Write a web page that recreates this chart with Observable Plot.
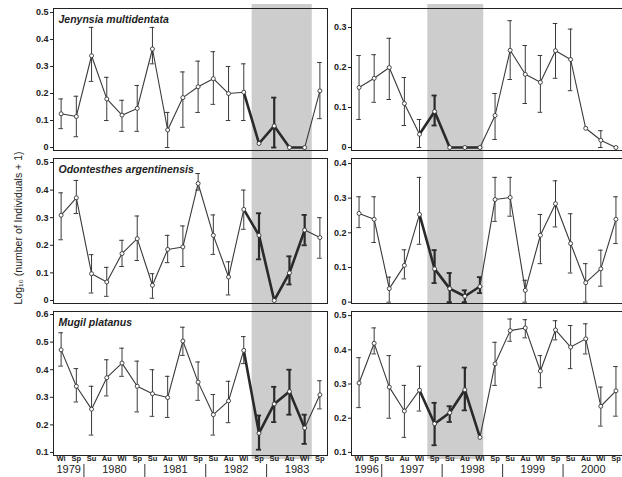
<!DOCTYPE html>
<html><head><meta charset="utf-8">
<script src="https://cdn.jsdelivr.net/npm/d3@7"></script>
<script src="https://cdn.jsdelivr.net/npm/@observablehq/plot@0.6"></script>
<style>
html,body{margin:0;padding:0;background:#fff;overflow:hidden;}
#chart{position:relative;width:622px;height:477px;overflow:hidden;font-family:"Liberation Sans",Arial,sans-serif;}
.panel{position:absolute;}
#ylab{position:absolute;left:18px;top:228px;transform:translate(-50%,-50%) rotate(-90deg);white-space:nowrap;font-size:10.5px;color:#222;}
</style></head><body>
<div id="chart"><div id="ylab">Log₁₀ (number of Individuals + 1)</div></div>
<script>
const seasons = ["Wi","Sp","Su","Au","Wi","Sp","Su","Au","Wi","Sp","Su","Au","Wi","Sp","Su","Au","Wi","Sp"];
const yearsLeft = ["1979","1980","1981","1982","1983"];
const yearsRight = ["1996","1997","1998","1999","2000"];
const yearCenters = [0.5, 3.5, 7.5, 11.5, 15.5];
const yearSeps = [1.5, 5.5, 9.5, 13.5];
const shadeLeft = [12.55, 16.5];
const shadeRight = [4.55, 8.25];

// Jenynsia multidentata
const jenL = [0.125,0.115,0.34,0.18,0.12,0.145,0.365,0.065,0.185,0.225,0.255,0.2,0.205,0.015,0.08,0,0,0.21];
const jenLlo = [0.07,0.04,0.245,0.10,0.06,0.06,0.31,0,0.075,0.13,0.16,0.10,0.10,null,0,null,null,0.107];
const jenLhi = [0.18,0.19,0.445,0.26,0.175,0.23,0.445,0.13,0.28,0.32,0.355,0.30,0.31,null,0.185,null,null,0.315];
const jenR = [0.15,0.173,0.2,0.11,0.033,0.09,0,0,0,0.08,0.243,0.183,0.163,0.242,0.22,0.048,0.018,0];
const jenRlo = [0.07,0.113,0.12,0.055,0,0.055,null,null,null,0.02,0.17,0.11,0.088,0.173,0.142,null,0,null];
const jenRhi = [0.23,0.232,0.273,0.175,0.07,0.13,null,null,null,0.135,0.317,0.255,0.23,0.31,0.296,null,0.042,null];
// Odontesthes argentinensis
const odoL = [0.309,0.372,0.097,0.067,0.17,0.224,0.055,0.185,0.194,0.424,0.236,0.085,0.33,0.236,0,0.1,0.255,0.228];
const odoLlo = [0.22,0.315,0.027,0.015,0.123,0.145,0.008,0.137,0.123,0.4,0.167,0.02,0.258,0.149,null,0.058,0.2,0.153];
const odoLhi = [0.39,0.435,0.166,0.12,0.218,0.306,0.097,0.236,0.27,0.46,0.31,0.14,0.4,0.316,null,0.16,0.31,0.30];
const odoR = [0.256,0.239,0.039,0.106,0.253,0.096,0.039,0.017,0.045,0.296,0.302,0.034,0.193,0.284,0.169,0.056,0.096,0.239];
const odoRlo = [0.215,0.172,0,0.067,0.167,0.055,0,0,0.026,0.233,0.248,0,0.111,0.217,0.084,0,0.046,0.169];
const odoRhi = [0.304,0.304,0.072,0.151,0.36,0.15,0.084,0.034,0.072,0.36,0.36,0.063,0.253,0.35,0.255,0.111,0.15,0.304];
// Mugil platanus
const mugL = [0.472,0.34,0.257,0.371,0.424,0.34,0.313,0.299,0.504,0.355,0.237,0.287,0.47,0.17,0.276,0.321,0.189,0.309];
const mugLlo = [0.413,0.283,0.163,0.305,0.376,0.247,0.231,0.227,0.452,0.289,0.163,0.208,0.422,0.11,0.21,0.237,0.131,0.258];
const mugLhi = [0.534,0.404,0.34,0.436,0.478,0.431,0.4,0.376,0.554,0.428,0.31,0.358,0.52,0.234,0.338,0.4,0.237,0.36];
const mugR = [0.303,0.419,0.291,0.221,0.282,0.184,0.216,0.283,0.144,0.359,0.456,0.464,0.338,0.458,0.408,0.432,0.235,0.28];
const mugRlo = [0.231,0.388,0.2,0.144,0.221,0.121,0.189,0.223,null,0.296,0.425,0.435,0.289,0.429,0.345,0.388,0.177,0.206];
const mugRhi = [0.377,0.464,0.383,0.296,0.352,0.245,0.235,0.348,null,0.422,0.49,0.488,0.383,0.485,0.471,0.476,0.291,0.351];

const fmt = d => d === 0 ? "0" : d.toFixed(1);
const ink = "#3a3a3a";

function panel(o) {
  const data = o.mean.map((v, i) => ({i, v, lo: o.lo[i], hi: o.hi[i]}));
  const bars = data.filter(d => d.lo != null && d.hi != null);
  const hb = d => d.i >= o.heavyBars[0] && d.i <= o.heavyBars[1];
  const thin = bars.filter(d => !hb(d));
  const thick = bars.filter(hb);
  const heavyLine = data.filter(d => d.i >= o.heavy[0] && d.i <= o.heavy[1]);
  const frameH = o.height - o.mT - o.mB;
  const marks = [
    Plot.rect([o.shade], {x1: d => d[0], x2: d => d[1], fill: "#c4c4c4", fillOpacity: 0.85, insetTop: -4, insetBottom: -4}),
    Plot.frame({stroke: "#222", strokeWidth: 1}),
    Plot.ruleX(thin, {x: "i", y1: "lo", y2: "hi", stroke: ink, strokeWidth: 1}),
    Plot.ruleY(thin, {x1: d => d.i - 0.15, x2: d => d.i + 0.15, y: "hi", stroke: ink, strokeWidth: 1}),
    Plot.ruleY(thin, {x1: d => d.i - 0.15, x2: d => d.i + 0.15, y: "lo", stroke: ink, strokeWidth: 1}),
    Plot.ruleX(thick, {x: "i", y1: "lo", y2: "hi", stroke: "#2a2a2a", strokeWidth: 2.2}),
    Plot.ruleY(thick, {x1: d => d.i - 0.17, x2: d => d.i + 0.17, y: "hi", stroke: "#2a2a2a", strokeWidth: 1.8}),
    Plot.ruleY(thick, {x1: d => d.i - 0.17, x2: d => d.i + 0.17, y: "lo", stroke: "#2a2a2a", strokeWidth: 1.8}),
    Plot.line(data, {x: "i", y: "v", stroke: ink, strokeWidth: 1.1}),
    Plot.line(heavyLine, {x: "i", y: "v", stroke: "#2a2a2a", strokeWidth: 2.6}),
    Plot.dot(data, {x: "i", y: "v", r: 2, fill: "white", stroke: "#333", strokeWidth: 0.9}),
    Plot.axisY({ticks: o.yTicks, tickFormat: fmt, tickSize: 3, tickPadding: 2, fontSize: 9, fontWeight: "bold", label: null, stroke: "#222", fill: "#222"})
  ];
  if (o.title) marks.push(Plot.text([o.title], {text: d => d, frameAnchor: "top-left", dx: 5, dy: 7, fontSize: 10.5, fontStyle: "italic", fontWeight: "bold", fill: "#222", textAnchor: "start"}));
  if (o.years) {
    marks.push(Plot.axisX({ticks: d3.range(seasons.length), tickFormat: i => seasons[i], tickSize: 0, tickPadding: 0, fontSize: 7.5, fontWeight: "bold", label: null, fill: "#222"}));
    marks.push(Plot.text(o.years, {x: (d, i) => yearCenters[i], text: d => d, frameAnchor: "bottom", dy: 17.5, fontSize: 11, fill: "#222"}));
    marks.push(Plot.ruleX(yearSeps, {x: d => d, insetTop: frameH + 9, insetBottom: -22, stroke: "#333", strokeWidth: 1}));
  }
  const svg = Plot.plot({
    width: o.width, height: o.height,
    marginLeft: o.mL, marginRight: o.mR, marginTop: o.mT, marginBottom: o.mB,
    style: {background: "transparent", fontFamily: "Liberation Sans, Arial, sans-serif", overflow: "visible"},
    x: {domain: [-0.5, 17.5], axis: null},
    y: {domain: o.yDomain, axis: null},
    marks
  });
  svg.classList.add("panel");
  svg.style.left = o.left + "px";
  svg.style.top = o.top + "px";
  svg.style.position = "absolute";
  svg.style.maxWidth = "none";
  document.getElementById("chart").appendChild(svg);
}

const colL = {left: 0, width: 330, mL: 53, mR: 3, shade: shadeLeft, heavy: [12, 16], heavyBars: [13, 16]};
const colR = {left: 330, width: 293, mL: 21, mR: 0, shade: shadeRight, heavy: [4, 8], heavyBars: [5, 8]};
const rowT = {top: 0, height: 154, mT: 8, mB: 4};
const rowM = {top: 154, height: 153, mT: 4, mB: 4};
const rowB = {top: 307, height: 170, mT: 4, mB: 22};

panel({...colL, ...rowT, mean: jenL, lo: jenLlo, hi: jenLhi, yDomain: [-0.011, 0.515], yTicks: [0, 0.1, 0.2, 0.3, 0.4, 0.5], title: "Jenynsia multidentata"});
panel({...colR, ...rowT, mean: jenR, lo: jenRlo, hi: jenRhi, yDomain: [-0.0075, 0.3475], yTicks: [0, 0.1, 0.2, 0.3]});
panel({...colL, ...rowM, mean: odoL, lo: odoLlo, hi: odoLhi, yDomain: [-0.011, 0.5145], yTicks: [0, 0.1, 0.2, 0.3, 0.4, 0.5], title: "Odontesthes argentinensis"});
panel({...colR, ...rowM, mean: odoR, lo: odoRlo, hi: odoRhi, yDomain: [-0.004, 0.4145], yTicks: [0, 0.1, 0.2, 0.3, 0.4]});
panel({...colL, ...rowB, mean: mugL, lo: mugLlo, hi: mugLhi, yDomain: [0.089, 0.611], yTicks: [0.1, 0.2, 0.3, 0.4, 0.5, 0.6], title: "Mugil platanus", years: yearsLeft});
panel({...colR, ...rowB, mean: mugR, lo: mugRlo, hi: mugRhi, yDomain: [0.091, 0.512], yTicks: [0.1, 0.2, 0.3, 0.4, 0.5], years: yearsRight});
</script>
</body></html>
